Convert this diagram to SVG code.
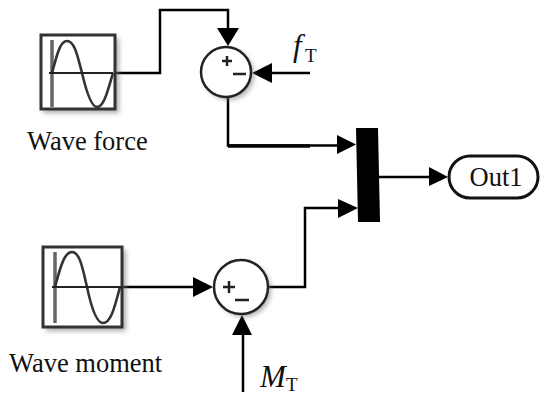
<svg xmlns="http://www.w3.org/2000/svg" width="550" height="405" viewBox="0 0 550 405">
<style>
.wire{fill:none;stroke:#000;stroke-width:2.500}
.box{fill:#fff;stroke:#333;stroke-width:3}
.sine{fill:none;stroke:#333;stroke-width:2.600}
.axis{fill:none;stroke:#666;stroke-width:3.500}
.sum{fill:#fff;stroke:#222;stroke-width:2.500}
.shadow{fill:#777;opacity:.6;filter:url(#blur)}
.t{font-family:"Liberation Serif","Times New Roman",serif;fill:#111;font-size:26.500px}
.big{font-size:31px;font-style:italic}
.sub{font-size:19px}
.sign{fill:none;stroke:#222;stroke-width:2.500}
</style>
<defs>
<filter id="blur" x="-20%" y="-20%" width="140%" height="140%"><feGaussianBlur stdDeviation="2.500"/></filter>
</defs>
<rect width="550" height="405" fill="#fff"/>
<g id="connectors">
<path class="wire" d="M113 73H160V10H228V30"/>
<path class="wire" d="M272 73H310"/>
<path class="wire" d="M228 97V145.500H338"/>
<path d="M228 146H310" fill="none" stroke="#000" stroke-width="3.500"/>
<path class="wire" d="M122 287H195"/>
<path class="wire" d="M268 287H305V208H340"/>
<path class="wire" d="M243 335V392"/>
<path class="wire" d="M379 177H430"/>
<path d="M217 28H239L228 46Z"/>
<path d="M272 63V83L252 73Z"/>
<path d="M337 135V154L356 144.500Z"/>
<path d="M338 199V218L358 208Z"/>
<path d="M193 277V297L213 287Z"/>
<path d="M232 335H252L242 315Z"/>
<path d="M429 167V186L448 177Z"/>
</g>
<g id="wave-force">
<rect class="shadow" x="43" y="38" width="76" height="75"/>
<rect class="box" x="41" y="35" width="74" height="74"/>
<path class="axis" d="M52 40V107"/>
<path class="sine" d="M52 73C58 50 61 41 67 41C75 41 78 58 82 73C86 90 91 107 97 107C104 107 108 90 113 73"/>
<path d="M49 73H113" stroke="#222" stroke-width="2" fill="none"/>
<text class="t" x="27" y="150">Wave force</text>
</g>
<g id="sum-top">
<circle class="shadow" cx="229" cy="75" r="25"/>
<circle class="sum" cx="226" cy="72" r="25"/>
<path class="sign" d="M222 61H232M227 56V66M233 74H246"/>
</g>
<g id="label-ft">
<text class="t big" x="293" y="56">f</text>
<text class="t sub" x="305" y="62">T</text>
</g>
<g id="wave-moment">
<rect class="shadow" x="46" y="250" width="80" height="81"/>
<rect class="box" x="43" y="247" width="79" height="80"/>
<path class="axis" d="M55 252V323"/>
<path class="sine" d="M55 287C61 264 65 252 72 252C80 252 83 270 87 287C91 306 96 323 103 323C111 323 115 306 120 287"/>
<path d="M52 287H122" stroke="#222" stroke-width="2" fill="none"/>
<text class="t" x="9" y="372">Wave moment</text>
</g>
<g id="sum-bottom">
<circle class="shadow" cx="244" cy="290" r="27"/>
<circle class="sum" cx="241" cy="287" r="27"/>
<path class="sign" d="M223 287H235M229 281V293M235 300H249"/>
</g>
<g id="label-mt">
<text class="t big" x="260" y="387">M</text>
<text class="t sub" x="286" y="391">T</text>
</g>
<g id="mux">
<path d="M356 128H378L380 222H358Z"/>
</g>
<g id="out1">
<rect x="449" y="156" width="89" height="42" rx="21" fill="#fff" stroke="#111" stroke-width="3"/>
<text class="t" x="496" y="186" text-anchor="middle">Out1</text>
</g>
</svg>
